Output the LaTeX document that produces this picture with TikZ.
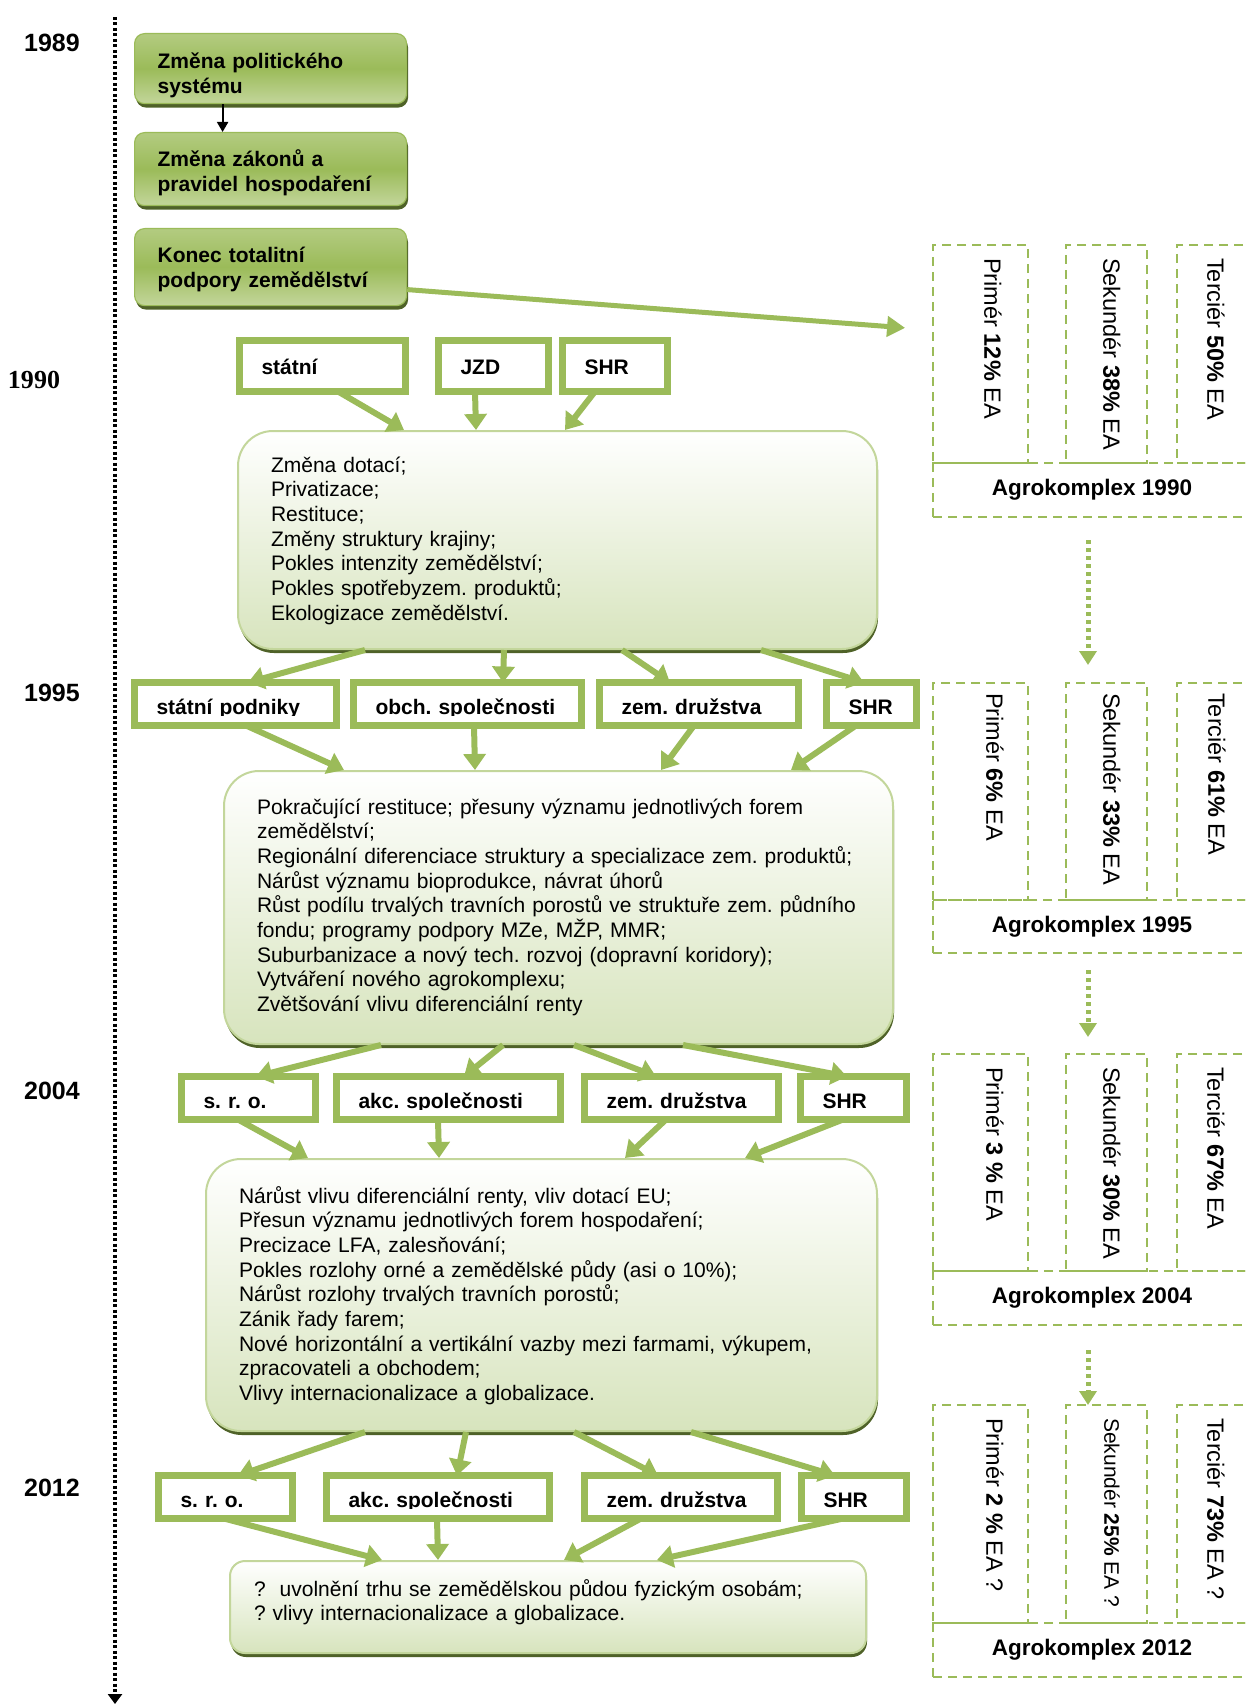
\documentclass[tikz,border=0pt]{standalone}
\usepackage{fontspec}
\setmainfont{Liberation Sans}
\newfontfamily\timesfont{Liberation Serif}
\usetikzlibrary{arrows.meta,shadows}

\definecolor{agreen}{HTML}{9BBB59}
\definecolor{alight}{HTML}{C3D69B}
\definecolor{apale}{HTML}{D7E4BD}
\definecolor{adark}{HTML}{4F6228}

\begin{document}
\frenchspacing
\begin{tikzpicture}[x=1pt, y=-1pt, text=black,
  yearlbl/.style={font=\fontsize{25}{28}\selectfont\bfseries},
  greenbox/.style={anchor=north west, rounded corners=10pt, draw=agreen, line width=1.2pt,
      top color=alight!60!agreen, bottom color=alight, middle color=agreen,
      general shadow={fill=adark, shadow xshift=1.5pt, shadow yshift=-4pt},
      font=\fontsize{21}{24.5}\selectfont\bfseries, align=left,
      text width=226pt, inner xsep=23pt, inner ysep=0pt},
  bigbox/.style={anchor=north west, rounded corners=35pt, draw=alight, line width=2pt,
      top color=white, bottom color=apale,
      general shadow={fill=adark, shadow xshift=1pt, shadow yshift=-4pt},
      font=\fontsize{21}{24.7}\selectfont, align=left, inner xsep=33pt, inner ysep=0pt},
  orgbox/.style={anchor=west, fill=white, text width=#1, inner xsep=22pt, inner ysep=0pt,
      outer sep=0pt, minimum height=43pt, text height=20pt, text depth=0pt, align=left,
      font=\fontsize{21}{24}\selectfont\bfseries},
  orgframe/.style={draw=agreen, line width=7pt},
  garrow/.style={draw=agreen, line width=6pt, -{Triangle[length=16pt,width=22pt]}},
  dashbox/.style={anchor=north west, draw=agreen, line width=2.5pt, dash pattern=on 9pt off 6pt,
      inner sep=0pt, outer sep=0pt},
  agrolbl/.style={dashbox, font=\fontsize{22.5}{25}\selectfont\bfseries, minimum width=318pt, minimum height=54pt},
  ealbl/.style={rotate=-90, anchor=west, inner sep=0pt, font=\fontsize{23.5}{26}\selectfont},
  dotarrow/.style={draw=agreen, line width=5pt, dash pattern=on 4pt off 4pt, -{Triangle[length=14pt,width=17pt]}}
]
\useasboundingbox (0,0) rectangle (1245,1704);
\clip (0,0) rectangle (1245,1704);

%Time line
\coordinate (tltop) at (115,17);
\coordinate (tlend) at (115,1704);
\draw[line width=4pt, dash pattern=on 3pt off 2.5pt, -{Triangle[length=10pt,width=14pt]}] (tltop) -- (tlend);

\node[yearlbl] (y89) at (52,43) {1989};
\node[yearlbl, font=\timesfont\fontsize{26}{29}\selectfont\bfseries] (y90) at (34,380) {1990};
\node[yearlbl] (y95) at (52,693) {1995};
\node[yearlbl] (y04) at (52,1091) {2004};
\node[yearlbl] (y12) at (52,1488) {2012};

%1989
\node[greenbox, text height=35pt, text depth=35pt] (polit) at (134,33) {Změna politického\\systému};
\node[greenbox, text height=34pt, text depth=39pt] (zakon) at (134,132) {Změna zákonů a\\pravidel hospodaření};
\node[greenbox, text height=34pt, text depth=43pt] (konec) at (134,228) {Konec totalitní\\podpory zemědělství};
\draw[line width=2pt, -{Triangle[length=10pt,width=11pt]}] ([xshift=-48pt]polit.south) -- ([xshift=-48pt]zakon.north);

%1990
\node[orgbox=122pt, minimum height=51pt, text height=16pt] (st90) at (239.5,366) {státní};
\node[orgbox=66pt, minimum height=51pt, text height=16pt] (jzd90) at (438.5,366) {JZD};
\node[orgbox=61pt, minimum height=51pt, text height=16pt] (shr90) at (562.5,366) {SHR};
\node[bigbox, text width=573pt, text height=41pt, text depth=177pt] (chg90) at (237,430)
  {Změna dotací;\\Privatizace;\\Restituce;\\Změny struktury krajiny;\\Pokles intenzity zemědělství;\\Pokles spotřebyzem. produktů;\\Ekologizace zemědělství.};

%1995
\begin{scope}
\clip (120,660) rectangle (930,715);
\node[orgbox=158pt] (sp95) at (134.5,704) {státní podniky};
\node[orgbox=184pt] (os95) at (353.5,704) {obch. společnosti};
\node[orgbox=155pt] (zd95) at (599.5,704) {zem. družstva};
\node[orgbox=46pt] (shr95) at (826.5,704) {SHR};
\end{scope}
\node[bigbox, text width=603pt, text height=43pt, text depth=230pt] (chg95) at (223,770)
  {Pokračující restituce; přesuny významu jednotlivých forem\\zemědělství;\\Regionální diferenciace struktury a specializace zem. produktů;\\Nárůst významu bioprodukce, návrat úhorů\\Růst podílu trvalých travních porostů ve struktuře zem. půdního\\fondu; programy podpory MZe, MŽP, MMR;\\Suburbanizace a nový tech. rozvoj (dopravní koridory);\\Vytváření nového agrokomplexu;\\Zvětšování vlivu diferenciální renty};

%2004
\begin{scope}
\clip (120,1050) rectangle (930,1109);
\node[orgbox=90pt] (sro04) at (181.5,1098) {s. r. o.};
\node[orgbox=180pt] (akc04) at (336.5,1098) {akc. společnosti};
\node[orgbox=150pt] (zd04) at (584.5,1098) {zem. družstva};
\node[orgbox=62pt] (shr04) at (800.5,1098) {SHR};
\end{scope}
\node[bigbox, text width=605pt, text height=44pt, text depth=228pt] (chg04) at (205,1158)
  {Nárůst vlivu diferenciální renty, vliv dotací EU;\\Přesun významu jednotlivých forem hospodaření;\\Precizace LFA, zalesňování;\\Pokles rozlohy orné a zemědělské půdy (asi o 10\%);\\Nárůst rozlohy trvalých travních porostů;\\Zánik řady farem;\\Nové horizontální a vertikální vazby mezi farmami, výkupem,\\zpracovateli a obchodem;\\Vlivy internacionalizace a globalizace.};

%2012
\begin{scope}
\clip (120,1450) rectangle (930,1508);
\node[orgbox=90pt] (sro12) at (158.5,1497) {s. r. o.};
\node[orgbox=179pt] (akc12) at (326.5,1497) {akc. společnosti};
\node[orgbox=149pt] (zd12) at (584.5,1497) {zem. družstva};
\node[orgbox=61pt] (shr12) at (801.5,1497) {SHR};
\end{scope}
\node[bigbox, rounded corners=15pt, inner xsep=24pt, text width=588pt, text height=35pt, text depth=57pt] (fin12) at (229,1560)
  {?~ uvolnění trhu se zemědělskou půdou fyzickým osobám;\\? vlivy internacionalizace a globalizace.};

\foreach \n in {st90,jzd90,shr90,sp95,os95,zd95,shr95,sro04,akc04,zd04,shr04,sro12,akc12,zd12,shr12}
  \draw[orgframe] (\n.south west) rectangle (\n.north east);

%forms 1990 to changes
\draw[garrow] ([xshift=15.5pt]st90.south) -- ([xshift=-153.5pt]chg90.north);
\draw[garrow] ([xshift=-18.5pt]jzd90.south) -- ([xshift=-81.5pt]chg90.north);
\draw[garrow] ([xshift=-20pt]shr90.south) -- ([xshift=7.5pt]chg90.north);
%changes to forms 1995
\draw[garrow] ([xshift=-192.5pt]chg90.south) -- ([xshift=12.5pt]sp95.north);
\draw[garrow] ([xshift=-53.5pt]chg90.south) -- ([xshift=35.5pt]os95.north);
\draw[garrow] ([xshift=64.5pt]chg90.south) -- ([xshift=-29pt]zd95.north);
\draw[garrow] ([xshift=203.5pt]chg90.south) -- ([xshift=-7.5pt]shr95.north);
%forms 1995 to changes
\draw[garrow] ([xshift=10.5pt]sp95.south) -- ([xshift=-214.5pt]chg95.north);
\draw[garrow] ([xshift=6.5pt]os95.south) -- ([xshift=-83.5pt]chg95.north);
\draw[garrow] ([xshift=-5pt]zd95.south) -- ([xshift=102.5pt]chg95.north);
\draw[garrow] ([xshift=-15.5pt]shr95.south) -- ([xshift=232.5pt]chg95.north);
%changes to forms 2004
\draw[garrow] ([xshift=-177.5pt]chg95.south) -- ([xshift=7.5pt]sro04.north);
\draw[garrow] ([xshift=-55.5pt]chg95.south) -- ([xshift=15.5pt]akc04.north);
\draw[garrow] ([xshift=15.5pt]chg95.south) -- ([xshift=-25.5pt]zd04.north);
\draw[garrow] ([xshift=124.5pt]chg95.south) -- ([xshift=-6.5pt]shr04.north);
%forms 2004 to changes
\draw[garrow] ([xshift=-10.5pt]sro04.south) -- ([xshift=-233.5pt]chg04.north);
\draw[garrow] ([xshift=-10.5pt]akc04.south) -- ([xshift=-102.5pt]chg04.north);
\draw[garrow] ([xshift=-15.5pt]zd04.south) -- ([xshift=83.5pt]chg04.north);
\draw[garrow] ([xshift=-10.5pt]shr04.south) -- ([xshift=203.5pt]chg04.north);
%changes to forms 2012
\draw[garrow] ([xshift=-176.5pt]chg04.south) -- ([xshift=12.5pt]sro12.north);
\draw[garrow] ([xshift=-75.5pt]chg04.south) -- ([xshift=19pt]akc12.north);
\draw[garrow] ([xshift=32.5pt]chg04.south) -- ([xshift=-23pt]zd12.north);
\draw[garrow] ([xshift=149.5pt]chg04.south) -- ([xshift=-19pt]shr12.north);
%forms 2012 to outlook
\draw[garrow] ([xshift=-1.5pt]sro12.south) -- ([xshift=-166pt]fin12.north);
\draw[garrow] ([xshift=-1pt]akc12.south) -- ([xshift=-110pt]fin12.north);
\draw[garrow] ([xshift=-40pt]zd12.south) -- ([xshift=16pt]fin12.north);
\draw[garrow] ([xshift=-11pt]shr12.south) -- ([xshift=109pt]fin12.north);

%Agrokomplex 1990
\node[dashbox, minimum width=95pt, minimum height=218pt] (pr90) at (933,245) {};
\node[dashbox, minimum width=81pt, minimum height=218pt] (se90) at (1066,245) {};
\node[dashbox, minimum width=74pt, minimum height=218pt] (te90) at (1177,245) {};
\node[agrolbl] (ag90) at (933,463) {Agrokomplex 1990};
\node[ealbl] (pr90t) at (993,258) {Primér \textbf{12\%} EA};
\node[ealbl] (se90t) at (1112,258) {Sekundér \textbf{38\%} EA};
\node[ealbl] (te90t) at (1216,258) {Terciér \textbf{50\%} EA};
\draw[garrow, line width=5pt, -{Triangle[length=18pt,width=20pt]}, shorten >=28pt] ([yshift=-22.5pt]konec.east) -- ([yshift=24pt]pr90.west);

%Agrokomplex 1995
\node[dashbox, minimum width=95pt, minimum height=217pt] (pr95) at (933,683) {};
\node[dashbox, minimum width=81pt, minimum height=217pt] (se95) at (1066,683) {};
\node[dashbox, minimum width=74pt, minimum height=217pt] (te95) at (1177,683) {};
\node[agrolbl, minimum height=53pt] (ag95) at (933,900) {Agrokomplex 1995};
\node[ealbl] (pr95t) at (995,693) {Primér \textbf{6\%} EA};
\node[ealbl] (se95t) at (1112,693) {Sekundér \textbf{33\%} EA};
\node[ealbl] (te95t) at (1217,693) {Terciér \textbf{61\%} EA};

%Agrokomplex 2004
\node[dashbox, minimum width=95pt, minimum height=217pt] (pr04) at (933,1054) {};
\node[dashbox, minimum width=81pt, minimum height=217pt] (se04) at (1066,1054) {};
\node[dashbox, minimum width=74pt, minimum height=217pt] (te04) at (1177,1054) {};
\node[agrolbl] (ag04) at (933,1271) {Agrokomplex 2004};
\node[ealbl] (pr04t) at (995,1067) {Primér \textbf{3 \%} EA};
\node[ealbl] (se04t) at (1112,1067) {Sekundér \textbf{30\%} EA};
\node[ealbl] (te04t) at (1216,1067) {Terciér \textbf{67\%} EA};

%Agrokomplex 2012
\node[dashbox, minimum width=95pt, minimum height=218pt] (pr12) at (933,1405) {};
\node[dashbox, minimum width=81pt, minimum height=218pt] (se12) at (1066,1405) {};
\node[dashbox, minimum width=74pt, minimum height=218pt] (te12) at (1177,1405) {};
\node[agrolbl] (ag12) at (933,1623) {Agrokomplex 2012};
\node[ealbl] (pr12t) at (995,1418) {Primér \textbf{2 \%} EA ?};
\node[ealbl, font=\fontsize{21}{24}\selectfont] (se12t) at (1112,1418) {Sekundér \textbf{25\%} EA ?};
\node[ealbl] (te12t) at (1216,1418) {Terciér \textbf{73\%} EA ?};

%dotted links between the blocks
\draw[dotarrow, shorten <=23pt, shorten >=18pt] ([xshift=-4pt]ag90.south) -- ([xshift=-18.5pt]se95.north);
\draw[dotarrow, shorten <=17pt, shorten >=17pt] ([xshift=-4pt]ag95.south) -- ([xshift=-18.5pt]se04.north);
\draw[dotarrow, shorten <=25pt] ([xshift=-4pt]ag04.south) -- ([xshift=-18.5pt]se12.north);

\end{tikzpicture}
\end{document}
